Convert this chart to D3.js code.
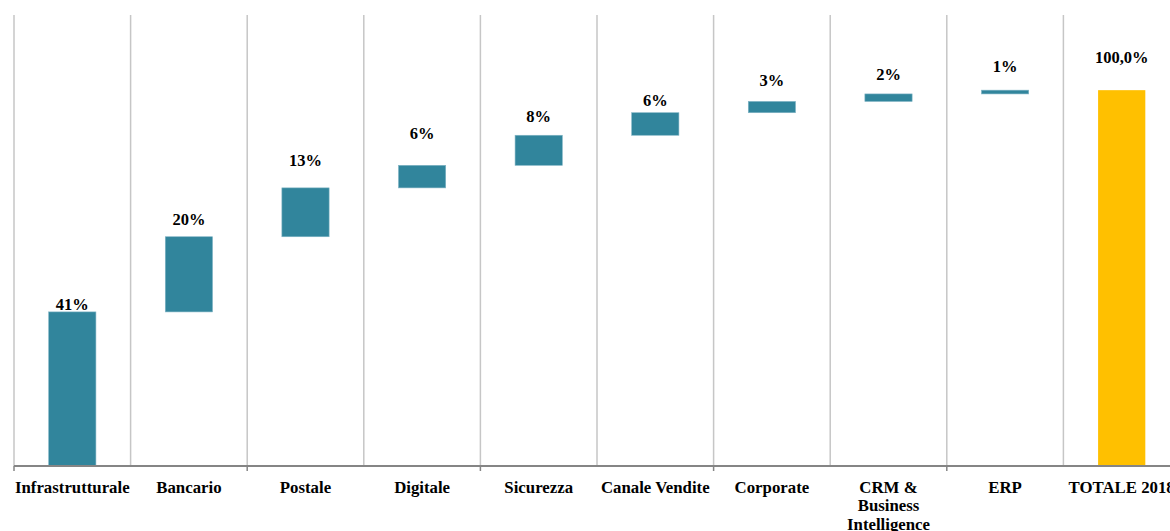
<!DOCTYPE html>
<html>
<head>
<meta charset="UTF-8">
<script src="https://cdn.jsdelivr.net/npm/d3@7"></script>
<style>
  body { margin: 0; background: #fff; }
</style>
</head>
<body>
<svg id="chart" width="1170" height="531"></svg>
<script>
// data
const categories = ["Infrastrutturale", "Bancario", "Postale", "Digitale", "Sicurezza",
                    "Canale Vendite", "Corporate", "CRM & Business Intelligence", "ERP", "TOTALE 2018"];
const shares = [41, 20, 13, 6, 8, 6, 3, 2, 1];
const totalValue = 100;
const valueLabels = ["41%", "20%", "13%", "6%", "8%", "6%", "3%", "2%", "1%", "100,0%"];

// label lift above bar top (px)
const labelGap = [2, 12, 22, 26, 13, 7, 15, 14, 18, 27];

const FONT = "'Liberation Serif', 'DejaVu Serif', serif";

const svg = d3.select("#chart");
const left = 14, band = 116.6, baseY = 466, topY = 15;

const x = d3.scaleBand().domain(categories).range([left, left + band * categories.length]).padding(0);
const y = d3.scaleLinear().domain([0, 120]).range([baseY, topY]);

// waterfall rows
let run = 0;
const rows = shares.map((v, i) => {
  const r = { cat: categories[i], lo: run, hi: run + v, total: false, label: valueLabels[i] };
  run += v;
  return r;
});
rows.push({ cat: categories[9], lo: 0, hi: totalValue, total: true, label: valueLabels[9] });

// vertical grid at band edges
const edges = categories.map(c => x(c));
svg.append("g").selectAll("line")
  .data(edges)
  .enter().append("line")
  .attr("x1", d => d).attr("x2", d => d)
  .attr("y1", topY).attr("y2", baseY)
  .attr("stroke", "#c6c6c6").attr("stroke-width", 1.5);

// bars
const bw = x.bandwidth() * 0.405;
svg.append("g").selectAll("rect")
  .data(rows)
  .enter().append("rect")
  .attr("x", d => x(d.cat) + (x.bandwidth() - bw) / 2)
  .attr("y", d => y(d.hi))
  .attr("width", bw)
  .attr("height", d => y(d.lo) - y(d.hi))
  .attr("fill", d => d.total ? "#FFC000" : "#31859C")
  .attr("stroke", d => d.total ? "none" : "#7fb3c4")
  .attr("stroke-width", 0.6);

// value labels
svg.append("g").selectAll("text")
  .data(rows)
  .enter().append("text")
  .attr("x", d => x(d.cat) + x.bandwidth() / 2)
  .attr("y", (d, i) => y(d.hi) - labelGap[i])
  .attr("text-anchor", "middle")
  .attr("font-family", FONT)
  .attr("font-weight", "bold")
  .attr("font-size", 16.5)
  .text(d => d.label);

// x axis baseline + ticks every other edge
svg.append("line")
  .attr("x1", left).attr("x2", 1170)
  .attr("y1", baseY).attr("y2", baseY)
  .attr("stroke", "#858585").attr("stroke-width", 2);

svg.append("g").selectAll("line")
  .data(edges.filter((d, i) => i % 2 === 0))
  .enter().append("line")
  .attr("x1", d => d).attr("x2", d => d)
  .attr("y1", baseY).attr("y2", baseY + 5)
  .attr("stroke", "#858585").attr("stroke-width", 1.5);

// category labels (wrap CRM one)
const catLines = c => c === "CRM & Business Intelligence" ? ["CRM &", "Business", "Intelligence"] : [c];
const cl = svg.append("g").selectAll("text")
  .data(categories)
  .enter().append("text")
  .attr("x", d => x(d) + x.bandwidth() / 2)
  .attr("y", 492.5)
  .attr("text-anchor", "middle")
  .attr("font-family", FONT)
  .attr("font-weight", "bold")
  .attr("font-size", 16.8);
cl.selectAll("tspan")
  .data(d => catLines(d).map(t => ({ t, c: d })))
  .enter().append("tspan")
  .attr("x", d => x(d.c) + x.bandwidth() / 2)
  .attr("dy", (d, i) => i === 0 ? 0 : 18.5)
  .text(d => d.t);
</script>
</body>
</html>
